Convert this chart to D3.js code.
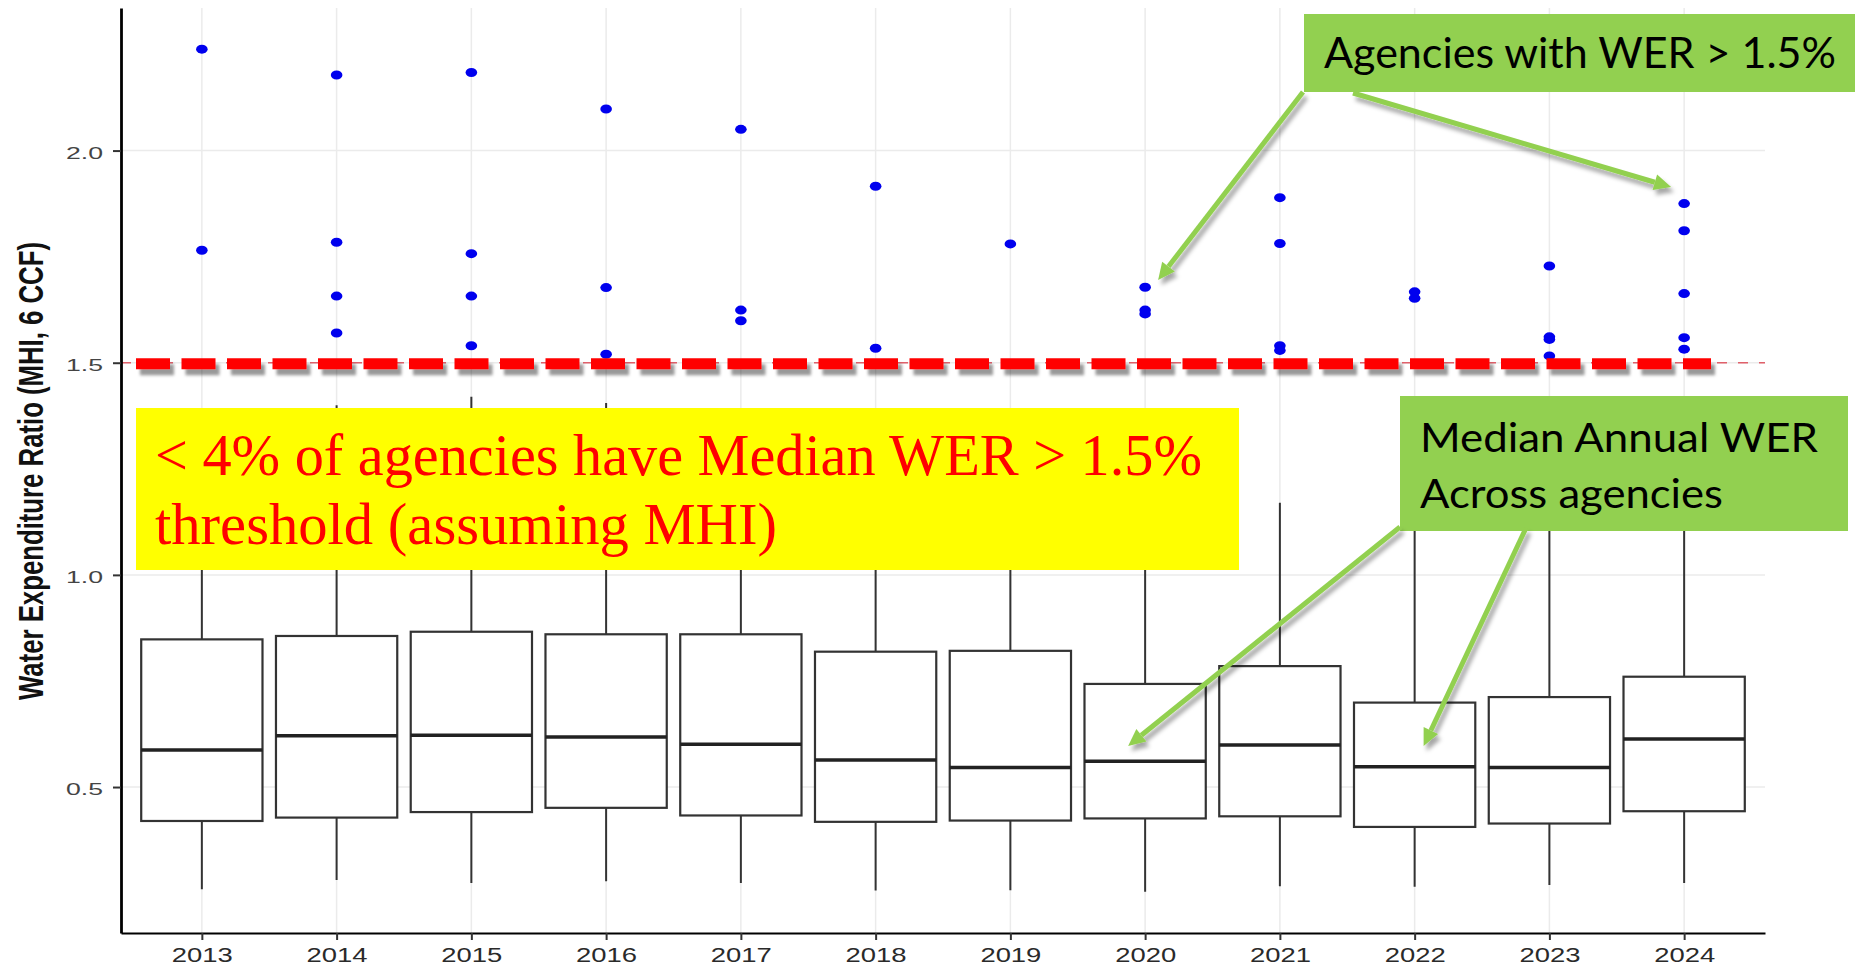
<!DOCTYPE html>
<html>
<head>
<meta charset="utf-8">
<script src="https://cdn.jsdelivr.net/npm/d3@7"></script>
<style>
  body { margin: 0; background: #fff; }
  svg { display: block; }
</style>
</head>
<body>
<div id="chart"></div>
<script>
// yearly boxplot stats for the water expenditure ratio
var years = ["2013", "2014", "2015", "2016", "2017", "2018", "2019", "2020", "2021", "2022", "2023", "2024"];
var whiskerLow  = [0.259, 0.281, 0.274, 0.278, 0.274, 0.256, 0.257, 0.253, 0.266, 0.265, 0.269, 0.274];
var q1          = [0.420, 0.428, 0.441, 0.451, 0.433, 0.418, 0.421, 0.426, 0.431, 0.406, 0.414, 0.443];
var medians     = [0.587, 0.621, 0.622, 0.618, 0.601, 0.564, 0.546, 0.561, 0.599, 0.548, 0.546, 0.613];
var q3          = [0.848, 0.856, 0.866, 0.860, 0.860, 0.819, 0.821, 0.743, 0.785, 0.699, 0.712, 0.760];
var whiskerHigh = [1.38, 1.40, 1.42, 1.405, 1.37, 1.33, 1.34, 1.20, 1.17, 1.13, 1.15, 1.22];
var outliers = [
  [2.239, 1.765],
  [2.178, 1.784, 1.657, 1.570],
  [2.184, 1.757, 1.657, 1.540],
  [2.098, 1.677, 1.520],
  [2.050, 1.624, 1.599],
  [1.916, 1.534],
  [1.780],
  [1.678, 1.624, 1.615],
  [1.889, 1.781, 1.540, 1.529],
  [1.667, 1.652],
  [1.728, 1.561, 1.555, 1.516],
  [1.875, 1.811, 1.663, 1.559, 1.532]
];
var yTicks = [0.5, 1.0, 1.5, 2.0];
var threshold = 1.5;
var yTitle = "Water Expenditure Ratio (MHI, 6 CCF)";

var noteLines = ["< 4% of agencies have Median WER > 1.5%", "threshold (assuming MHI)"];
var calloutTop = ["Agencies with WER > 1.5%"];
var calloutBottom = ["Median Annual WER", "Across agencies"];

// arrow tips are given in data space (year + pixel nudge, value)
var arrowsTop = [
  {from: [1303, 92], year: "2020", dx: 13, v: 1.695},
  {from: [1353, 93], year: "2024", dx: -13, v: 1.914}
];
var arrowsBottom = [
  {from: [1400, 527], year: "2020", dx: -17, v: 0.597},
  {from: [1526, 528], year: "2022", dx: 9, v: 0.597}
];

var width = 1855, height = 967;
var plot = {left: 121, right: 1765, top: 8, bottom: 933};

var svg = d3.select("#chart").append("svg")
    .attr("width", width)
    .attr("height", height);

var defs = svg.append("defs");
function shadowFilter(id, dx, dy, blur, op) {
  defs.append("filter").attr("id", id)
      .attr("filterUnits", "userSpaceOnUse")
      .attr("x", 0).attr("y", 0).attr("width", width).attr("height", height)
    .append("feDropShadow")
      .attr("dx", dx).attr("dy", dy).attr("stdDeviation", blur)
      .attr("flood-color", "#000").attr("flood-opacity", op);
}
shadowFilter("shadow", 3, 5, 2, 0.35);
shadowFilter("dashShadow", 4, 6, 1.5, 0.4);

var x = d3.scalePoint()
    .domain(years)
    .range([plot.left, plot.right])
    .padding(0.6);

var y = d3.scaleLinear()
    .domain([0.156, 2.336])
    .range([plot.bottom, plot.top]);

var boxW = x.step() * 0.9;

// grid
var grid = svg.append("g");
grid.selectAll(".vg").data(years).enter().append("line")
    .attr("x1", d => x(d)).attr("x2", d => x(d))
    .attr("y1", plot.top).attr("y2", plot.bottom)
    .attr("stroke", "#ebebeb").attr("stroke-width", 1.5);
grid.selectAll(".hg").data(yTicks).enter().append("line")
    .attr("x1", plot.left).attr("x2", plot.right)
    .attr("y1", d => y(d)).attr("y2", d => y(d))
    .attr("stroke", "#ebebeb").attr("stroke-width", 1.5);

// thin ggplot threshold line
svg.append("line")
    .attr("x1", plot.left).attr("x2", plot.right)
    .attr("y1", y(threshold)).attr("y2", y(threshold))
    .attr("stroke", "#e0606a").attr("stroke-width", 1.5)
    .attr("stroke-dasharray", "10,11");

// boxes
var boxes = svg.append("g").selectAll("g").data(years).enter().append("g");
boxes.append("line")
    .attr("x1", d => x(d)).attr("x2", d => x(d))
    .attr("y1", (d, i) => y(whiskerLow[i])).attr("y2", (d, i) => y(whiskerHigh[i]))
    .attr("stroke", "#333").attr("stroke-width", 2);
boxes.append("rect")
    .attr("x", d => x(d) - boxW / 2)
    .attr("width", boxW)
    .attr("y", (d, i) => y(q3[i]))
    .attr("height", (d, i) => y(q1[i]) - y(q3[i]))
    .attr("fill", "#fff").attr("stroke", "#333").attr("stroke-width", 2.2);
boxes.append("line")
    .attr("x1", d => x(d) - boxW / 2).attr("x2", d => x(d) + boxW / 2)
    .attr("y1", (d, i) => y(medians[i])).attr("y2", (d, i) => y(medians[i]))
    .attr("stroke", "#222").attr("stroke-width", 3.5);

// outliers
var pts = [];
outliers.forEach((vals, i) => vals.forEach(v => pts.push({year: years[i], v: v})));
svg.append("g").selectAll("ellipse").data(pts).enter().append("ellipse")
    .attr("cx", d => x(d.year)).attr("cy", d => y(d.v))
    .attr("rx", 5.8).attr("ry", 4.5)
    .attr("fill", "#0000ee");

// axes
var xAxis = svg.append("g")
    .attr("transform", `translate(0, ${plot.bottom})`)
    .call(d3.axisBottom(x).tickSize(7).tickSizeOuter(0).tickPadding(7));
xAxis.select(".domain").attr("stroke", "#000").attr("stroke-width", 2.2);
xAxis.selectAll(".tick line").attr("stroke", "#333").attr("stroke-width", 2);
xAxis.selectAll("text")
    .attr("font-family", "Liberation Sans, Arial, sans-serif")
    .attr("font-size", 20.5).attr("fill", "#2a2a2a")
    .attr("textLength", 61).attr("lengthAdjust", "spacingAndGlyphs");

var yAxis = svg.append("g")
    .attr("transform", `translate(${plot.left}, 0)`)
    .call(d3.axisLeft(y).tickValues(yTicks).tickFormat(d3.format(".1f"))
      .tickSize(8).tickSizeOuter(0).tickPadding(10));
yAxis.select(".domain").attr("stroke", "#000").attr("stroke-width", 2.8);
yAxis.selectAll(".tick line").attr("stroke", "#333").attr("stroke-width", 2);
yAxis.selectAll("text")
    .attr("font-family", "Liberation Sans, Arial, sans-serif")
    .attr("font-size", 17).attr("fill", "#444").attr("dy", "0.45em")
    .attr("textLength", 37).attr("lengthAdjust", "spacingAndGlyphs");

svg.append("text")
    .attr("transform", "translate(43, 471) rotate(-90)")
    .attr("text-anchor", "middle")
    .attr("font-family", "Liberation Sans, Arial, sans-serif")
    .attr("font-weight", "bold").attr("font-size", 35).attr("fill", "#111")
    .attr("textLength", 458).attr("lengthAdjust", "spacingAndGlyphs")
    .text(yTitle);

// thick hand-drawn threshold dashes with shadow
svg.append("line")
    .attr("x1", 136).attr("x2", 1711)
    .attr("y1", y(threshold) + 1).attr("y2", y(threshold) + 1)
    .attr("stroke", "#ff0000").attr("stroke-width", 11)
    .attr("stroke-dasharray", "34,11.5")
    .attr("filter", "url(#dashShadow)");

// yellow note
svg.append("rect")
    .attr("x", 136).attr("y", 408).attr("width", 1103).attr("height", 162)
    .attr("fill", "#ffff00");
var noteLen = [1047, 622];
svg.append("g").selectAll("text").data(noteLines).enter().append("text")
    .attr("x", 155).attr("y", (d, i) => 475 + i * 69)
    .attr("font-family", "Liberation Serif, Times New Roman, serif")
    .attr("font-size", 60).attr("fill", "#ff0000")
    .attr("textLength", (d, i) => noteLen[i]).attr("lengthAdjust", "spacingAndGlyphs")
    .text(d => d);

// green callouts
function callout(box, lines, lens, x0, y0, lh, fs) {
  svg.append("rect")
      .attr("x", box[0]).attr("y", box[1]).attr("width", box[2]).attr("height", box[3])
      .attr("fill", "#92d050");
  svg.append("g").selectAll("text").data(lines).enter().append("text")
      .attr("x", x0).attr("y", (d, i) => y0 + i * lh)
      .attr("font-family", "Lato, Open Sans, sans-serif")
      .attr("font-size", fs).attr("fill", "#000")
      .attr("textLength", (d, i) => lens[i]).attr("lengthAdjust", "spacingAndGlyphs")
      .text(d => d);
}
callout([1304, 14, 551, 78], calloutTop, [512], 1324, 68, 0, 42);
callout([1400, 396, 448, 135], calloutBottom, [398, 303], 1420, 452, 56, 40);

// arrows
function drawArrow(a) {
  var tx = x(a.year) + a.dx, ty = y(a.v);
  var fx = a.from[0], fy = a.from[1];
  var ang = Math.atan2(ty - fy, tx - fx);
  var headL = 17, headW = 8;
  var bx = tx - headL * Math.cos(ang), by = ty - headL * Math.sin(ang);
  var g = svg.append("g").attr("filter", "url(#shadow)");
  g.append("line")
      .attr("x1", fx).attr("y1", fy).attr("x2", bx).attr("y2", by)
      .attr("stroke", "#92d050").attr("stroke-width", 5);
  var px = -Math.sin(ang) * headW, py = Math.cos(ang) * headW;
  g.append("path")
      .attr("d", `M${tx},${ty}L${bx + px},${by + py}L${bx - px},${by - py}Z`)
      .attr("fill", "#92d050");
}
arrowsTop.forEach(drawArrow);
arrowsBottom.forEach(drawArrow);
</script>
</body>
</html>
